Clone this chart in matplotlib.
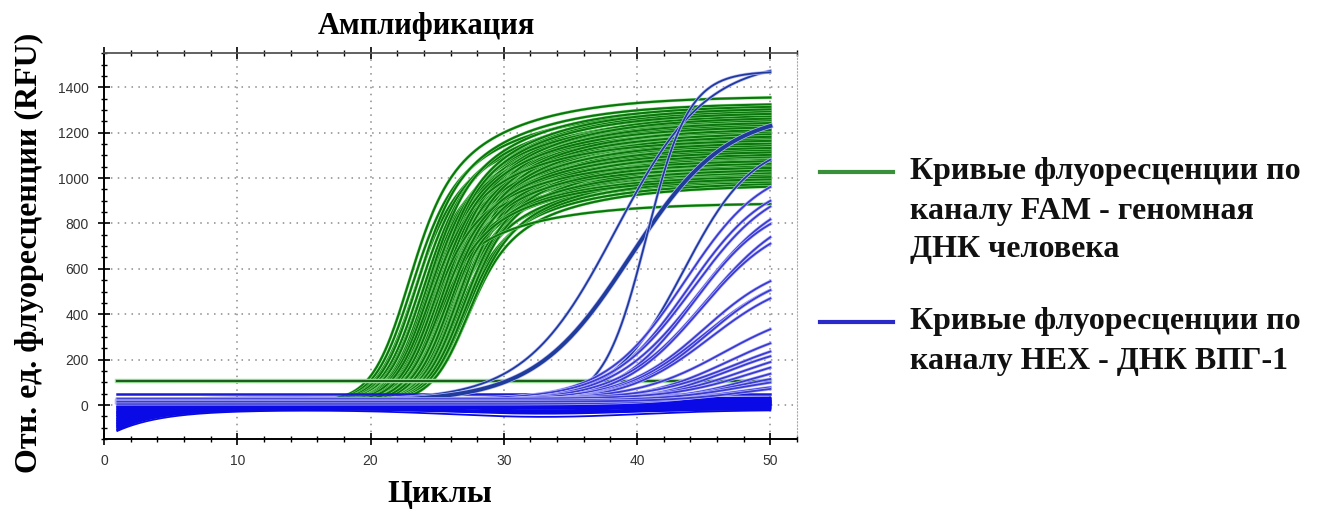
import numpy as np
import matplotlib.pyplot as plt
from matplotlib.lines import Line2D
from matplotlib.ticker import MultipleLocator

# values (cycle, RFU)
cycles = np.linspace(1, 50, 491)

# FAM channel (green): mid-rise cycle and level reached at cycle 50
fam_mid = [22.3, 22.5, 22.7, 22.9, 23.1, 23.2,
           23.4, 23.5, 23.6, 23.6, 23.7, 23.8, 23.8, 23.9, 24.0, 24.0,
           24.1, 24.2, 24.2, 24.3, 24.4, 24.4, 24.5, 24.5, 24.6, 24.7,
           24.7, 24.8, 24.8, 24.9, 25.0, 25.0, 25.1, 25.1, 25.2, 25.3,
           25.3, 25.4, 25.4, 25.5, 25.5, 25.6, 25.6, 25.7, 25.8, 25.8,
           25.9, 25.9, 26.0, 26.0, 26.1, 26.2, 26.2, 26.3, 26.4, 26.5,
           26.6, 26.7, 26.8, 23.5,
           23.65, 23.75, 23.85, 23.95, 24.05, 24.15, 24.25, 24.35, 24.45, 24.55,
           24.65, 24.75, 24.85, 24.95, 25.05, 25.15, 25.25, 25.35, 25.45, 25.55,
           24.3, 24.6, 24.9, 25.2, 23.9, 24.1, 24.4, 24.8]
fam_end = [1360, 1300, 1250, 1330, 1280, 1200,
           1290, 1180, 1240, 1100, 1320, 1150, 1210, 1060, 1270, 1130,
           1190, 1020, 1250, 1160, 1090, 1230, 1300, 1120, 1200, 1050,
           1260, 1170, 1000, 1220, 1140, 1280, 1080, 1190, 1240, 1110,
           1030, 1200, 1150, 1260, 1070, 1180, 990, 1130, 1220, 1040,
           1170, 1100, 1010, 1190, 1120, 980, 1150, 1060, 1100, 1000,
           1080, 970, 1020, 890,
           1210, 1120, 1260, 1050, 1180, 1230, 1100, 1290, 1150, 1010,
           1240, 1130, 1200, 1070, 1270, 1160, 1040, 1220, 1110, 1190,
           1310, 1000, 1250, 1140, 1170, 1080, 1230, 1120]
fam_base = 12
fam_flat = [105]   # non-amplifying FAM well

# HEX channel (blue), amplifying wells: plateau, mid cycle, spread
hex_amp = [1500, 1280, 1460, 1150, 1050, 1000, 980, 950, 900, 880, 820,
           620, 600, 590, 570, 420, 350, 300, 270, 260, 220, 200,
           150, 120, 100, 90]
hex_mid = [38.4, 39.5, 40.7, 43.5, 43.6, 43.8, 44.2, 44.6, 44.3, 45.2, 44.8,
           45.0, 45.0, 45.3, 45.5, 46.5, 46.8, 47.3, 46.8, 48.0, 48.5, 48.8,
           47.5, 48.0, 47.0, 48.5]
hex_spread = [3.4, 3.6, 1.6, 2.6, 3.0, 3.0, 3.1, 3.2, 2.9, 3.2, 3.0,
              3.0, 3.2, 3.0, 3.2, 3.3, 3.2, 3.2, 3.0, 3.2, 3.0, 3.0,
              3.0, 3.0, 3.0, 3.0]
hex_amp_base = [20, 15, 10, 18, 22, 12, 25, 16, 8, 20, 14,
                24, 10, 18, 12, 22, 16, 26, 14, 20, 28, 18,
                10, 20, 5, 15]

# HEX channel, negative wells: late level, value at cycle 1, dip near cycle 33
hex_level = [-22, -18, -14, -10, -7, -4, -1, 2, 5, 8, 10, 12, 14, 16, 18, 20,
             22, 24, 26, 28, 30, 32, 34, -16, -2, 4, 7, 11, 17, 23, 0, 10, 15,
             5, -12, 12, 20, 8, 27, -6, 31, 19, 3, -9]
hex_start = [-114, -100, -95, -90, -85, -80, -76, -70, -66, -60, -55, -50,
             -46, -40, -35, -30, -25, -20, -15, -10, -5, 5, 20, -105,
             -88, -72, -62, -48, -28, -8, -92, -58, -38, -82, -98, -44, -18,
             -68, 10, -108, 0, -33, -78, -110]
hex_sag = [-30, -15, 0, -25, -5, 0, -15, -25, 0, -8, -12, 0, -18, -5, 0, -10,
           0, -6, -14, 0, -4, 0, -10, -22, 0, -12, -6, 0, -8, 0, -16,
           -4, 0, -9, -20, 0, -3, -11, 0, -28, -5, -12, 0, -18]
hex_flat = 47

x_ticks = [0, 10, 20, 30, 40, 50]
y_ticks = [0, 200, 400, 600, 800, 1000, 1200, 1400]

serif = 'Liberation Serif'

fig = plt.figure(figsize=(13.25, 5.16), dpi=100)
ax = fig.add_axes([0.0785, 0.149, 0.523, 0.748])

# green curves, each with a thin light halo
for m, p in zip(fam_mid, fam_end):
    rise = 1 / (1 + np.exp(-(cycles - m) / 1.3))
    creep = 1 - 0.42 * np.exp(-np.logaddexp(0, cycles - m) / 6.0)
    y = fam_base + (p - fam_base) * rise * creep
    ax.plot(cycles, y, color='#84da84', lw=2.2, zorder=2)
    ax.plot(cycles, y, color='#0b760b', lw=1.5, zorder=2)
for lvl in fam_flat:
    ax.plot(cycles, np.full_like(cycles, lvl), color='#9fe89f', lw=3.2, zorder=3)
    ax.plot(cycles, np.full_like(cycles, lvl), color='#1d5e1d', lw=1.6, zorder=3)

# blue baseline band
for b, s0, sg in zip(hex_level, hex_start, hex_sag):
    y = b + (s0 - b) * np.exp(-(cycles - 1) / 3.5) + sg * np.exp(-0.5 * ((cycles - 33) / 7) ** 2)
    ax.plot(cycles, y, color='#0a0ae6', lw=1.3, zorder=4)
ax.plot(cycles, np.full_like(cycles, hex_flat), color='#1a1ad0', lw=1.8, zorder=4)

# blue amplifying curves
for i, (p, m, s, b) in enumerate(zip(hex_amp, hex_mid, hex_spread, hex_amp_base)):
    y = b + p / (1 + np.exp(-(cycles - m) / s))
    lw = 2.8 if i == 1 else 1.3
    col = '#1f3c9a' if i in (0, 1, 2, 3) else '#3b3bd0'
    ax.plot(cycles, y, color='#b8b8ff', lw=lw + 1.0, zorder=5)
    ax.plot(cycles, y, color=col, lw=lw, zorder=5)

ax.set_xlim(0, 52)
ax.set_ylim(-150, 1550)
ax.set_xticks(x_ticks)
ax.set_yticks(y_ticks)
ax.xaxis.set_minor_locator(MultipleLocator(2))
ax.yaxis.set_minor_locator(MultipleLocator(50))
ax.tick_params(which='major', direction='inout', length=8, width=1.2,
               top=True, pad=7, labelsize=10, labelcolor='#333333')
ax.tick_params(which='minor', direction='inout', length=5, width=1.0, top=True)
for lab in ax.get_xticklabels() + ax.get_yticklabels():
    lab.set_family('Liberation Sans')
ax.grid(which='major', color='#8a8a8a', linestyle=(0, (1, 3.5)), lw=1.1)
ax.spines['left'].set_linewidth(1.4)
ax.spines['bottom'].set_linewidth(1.4)
ax.spines['top'].set_color('#555555')
ax.spines['top'].set_linewidth(1.3)
ax.spines['right'].set_color('#aaaaaa')
ax.spines['right'].set_linestyle((0, (1, 2)))

fig.text(0.322, 0.948, 'Амплификация', ha='center', va='center',
         family=serif, weight='bold', fontsize=22)
fig.text(0.0226, 0.51, 'Отн. ед. флуоресценции (RFU)', ha='center', va='center',
         rotation=90, family=serif, weight='bold', fontsize=23)
fig.text(0.332, 0.041, 'Циклы', ha='center', va='center',
         family=serif, weight='bold', fontsize=23)

# legend drawn beside the plot
legend_items = [('#3a8f3a', 172, ['Кривые флуоресценции по', 'каналу FAM - геномная', 'ДНК человека']),
                ('#2a2ac8', 322, ['Кривые флуоресценции по', 'каналу HEX - ДНК ВПГ-1'])]
H = 516.0
for col, ypx, lines in legend_items:
    fig.add_artist(Line2D([820 / 1325, 893 / 1325], [1 - ypx / H, 1 - ypx / H],
                          color=col, lw=3))
    for k, t in enumerate(lines):
        fig.text(910 / 1325, 1 - (ypx + 39 * k) / H, t, ha='left', va='center',
                 family=serif, weight='bold', fontsize=23, color='#111111')

fig.savefig('out.png', dpi=100)
